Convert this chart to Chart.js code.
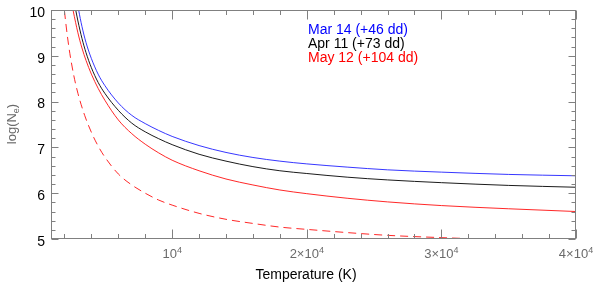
<!DOCTYPE html>
<html>
<head>
<meta charset="utf-8">
<script src="https://cdn.jsdelivr.net/npm/chart.js@4.4.1/dist/chart.umd.min.js"></script>
<style>
  html,body{margin:0;padding:0;background:#fff}
  #wrap{width:600px;height:285px}
</style>
</head>
<body>
<div id="wrap"><canvas id="chart"></canvas></div>
<script>
// temperature (K) and log(Ne)
const tMar = [2900, 3050, 3300, 3600, 4000, 4500, 5000, 6000, 7000, 8000, 9000, 10000, 12000, 14000, 16000, 18000, 20000, 23000, 26000, 30000, 35000, 40000];
const nMar = [10.23, 10.0, 9.64, 9.29, 8.94, 8.60, 8.35, 7.97, 7.70, 7.52, 7.37, 7.24, 7.04, 6.89, 6.78, 6.70, 6.64, 6.57, 6.51, 6.46, 6.41, 6.38];

const tApr = [2700, 2850, 3000, 3300, 3600, 4000, 4500, 5000, 6000, 7000, 8000, 9000, 10000, 12000, 14000, 16000, 18000, 20000, 23000, 26000, 30000, 35000, 40000];
const nApr = [10.21, 9.98, 9.76, 9.38, 9.07, 8.74, 8.42, 8.18, 7.81, 7.53, 7.34, 7.19, 7.06, 6.85, 6.70, 6.58, 6.49, 6.43, 6.35, 6.29, 6.23, 6.17, 6.13];

const tMay = [2450, 2650, 3000, 3300, 3600, 4000, 4500, 5000, 6000, 7000, 8000, 9000, 10000, 12000, 14000, 16000, 18000, 20000, 23000, 26000, 30000, 35000, 40000];
const nMay = [10.28, 9.98, 9.50, 9.17, 8.90, 8.60, 8.29, 8.03, 7.60, 7.30, 7.07, 6.88, 6.72, 6.49, 6.31, 6.18, 6.07, 5.99, 5.89, 5.81, 5.73, 5.66, 5.60];

const tMayD = [1900, 2000, 2200, 2400, 2700, 3000, 3500, 4000, 4500, 5000, 6000, 7000, 8000, 9000, 10000, 12000, 14000, 16000, 18000, 20000, 23000, 26000, 30000, 35000, 40000];
const nMayD = [10.26, 9.98, 9.47, 9.05, 8.56, 8.18, 7.70, 7.33, 7.03, 6.79, 6.42, 6.18, 6.00, 5.85, 5.74, 5.56, 5.43, 5.34, 5.26, 5.21, 5.14, 5.08, 5.03, 4.98, 4.94];

const legendLabels = ['Mar 14 (+46 dd)', 'Apr 11 (+73 dd)', 'May 12 (+104 dd)'];
const legendColors = ['#0000ff', '#000000', '#ff0000'];

const xMajor = [10000, 20000, 30000, 40000];
const xMajorPrefix = ['', '2\u00d7', '3\u00d7', '4\u00d7'];
const yMajor = [5, 6, 7, 8, 9, 10];

const pts = (t, n) => t.map((v, i) => ({ x: v, y: n[i] }));

const FONT = 'Liberation Sans, Arial, Helvetica, sans-serif';

// box, inward ticks, labels and titles
const framePlugin = {
  id: 'frame',
  afterDraw(chart){
    const { ctx, chartArea: a, scales: { x, y } } = chart;
    ctx.save();
    ctx.strokeStyle = '#808080';
    ctx.lineWidth = 1;
    const L = a.left + .5, R = a.right - .5, T = a.top + .5, B = a.bottom - .5;
    ctx.strokeRect(L, T, R - L, B - T);

    ctx.beginPath();
    for(let t = 2000; t <= 40000; t += 2000){
      const px = Math.round(x.getPixelForValue(t)) + .5;
      const len = t % 10000 === 0 ? 9 : 4.5;
      ctx.moveTo(px, B); ctx.lineTo(px, B - len);
      ctx.moveTo(px, T); ctx.lineTo(px, T + len);
    }
    for(let k = 0; k <= 25; k++){
      const v = 5 + k * 0.2;
      const py = Math.round(y.getPixelForValue(v)) + .5;
      const len = k % 5 === 0 ? 7 : 4;
      ctx.moveTo(L, py); ctx.lineTo(L + len, py);
      ctx.moveTo(R, py); ctx.lineTo(R - len, py);
    }
    ctx.stroke();

    // y tick labels
    ctx.fillStyle = '#000';
    ctx.font = '14px ' + FONT;
    ctx.textAlign = 'right';
    ctx.textBaseline = 'middle';
    yMajor.forEach(v => ctx.fillText(String(v), 45, y.getPixelForValue(v) + 3));

    // x tick labels with exponent
    ctx.fillStyle = '#6a6a6a';
    ctx.textBaseline = 'alphabetic';
    ctx.textAlign = 'left';
    xMajor.forEach((t, i) => {
      const base = xMajorPrefix[i] + '10';
      ctx.font = '13px ' + FONT;
      const wb = ctx.measureText(base).width;
      ctx.font = '9px ' + FONT;
      const we = ctx.measureText('4').width;
      let x0 = x.getPixelForValue(t) - (wb + we) / 2;
      if(x0 + wb + we > 599) x0 = 599 - wb - we;
      ctx.font = '13px ' + FONT;
      ctx.fillText(base, x0, 258);
      ctx.font = '9px ' + FONT;
      ctx.fillText('4', x0 + wb, 253);
    });

    // x title
    ctx.fillStyle = '#000';
    ctx.font = '14px ' + FONT;
    ctx.textAlign = 'center';
    ctx.fillText('Temperature (K)', 306, 279);

    // y title log(Ne)
    ctx.save();
    ctx.translate(16, 124);
    ctx.rotate(-Math.PI / 2);
    ctx.fillStyle = '#6a6a6a';
    ctx.textAlign = 'left';
    ctx.font = '13px ' + FONT;
    const w1 = ctx.measureText('log(N').width;
    const w3 = ctx.measureText(')').width;
    ctx.font = '9px ' + FONT;
    const w2 = ctx.measureText('e').width;
    const sx = -(w1 + w2 + w3) / 2;
    ctx.font = '13px ' + FONT;
    ctx.fillText('log(N', sx, 0);
    ctx.font = '9px ' + FONT;
    ctx.fillText('e', sx + w1, 3);
    ctx.font = '13px ' + FONT;
    ctx.fillText(')', sx + w1 + w2, 0);
    ctx.restore();

    // legend text
    ctx.font = '14px ' + FONT;
    ctx.textAlign = 'left';
    legendLabels.forEach((s, i) => {
      ctx.fillStyle = legendColors[i];
      ctx.fillText(s, 308, 34 + i * 14);
    });
    ctx.restore();
  }
};

new Chart(document.getElementById('chart'), {
  type: 'line',
  data: {
    datasets: [
      { data: pts(tMar, nMar), borderColor: '#2020ff', borderWidth: 0.9 },
      { data: pts(tApr, nApr), borderColor: '#000000', borderWidth: 0.9 },
      { data: pts(tMay, nMay), borderColor: '#ff1010', borderWidth: 0.9 },
      { data: pts(tMayD, nMayD), borderColor: '#ff1010', borderWidth: 0.9, borderDash: [8, 5] }
    ]
  },
  options: {
    responsive: true,
    maintainAspectRatio: false,
    animation: false,
    layout: { padding: { left: 51, right: 24, top: 10, bottom: 46 } },
    elements: {
      point: { radius: 0 },
      line: { cubicInterpolationMode: 'monotone', fill: false }
    },
    plugins: { legend: { display: false }, tooltip: { enabled: false } },
    scales: {
      x: { type: 'linear', min: 1000, max: 40000, display: false },
      y: { min: 5, max: 10, display: false }
    }
  },
  plugins: [framePlugin]
});
</script>
</body>
</html>
